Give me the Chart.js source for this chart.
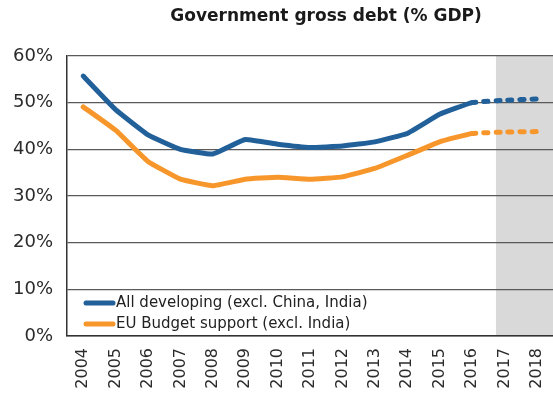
<!DOCTYPE html>
<html>
<head>
<meta charset="utf-8">
<script src="https://cdn.jsdelivr.net/npm/chart.js@4.4.0/dist/chart.umd.min.js"></script>
<style>
  html, body { margin: 0; padding: 0; background: #ffffff; }
  #wrap { width: 553px; height: 394px; position: relative; }
</style>
</head>
<body>
<div id="wrap"><canvas id="chart" width="553" height="394"></canvas></div>
<script>
// Government gross debt, % of GDP
const years = ['2004','2005','2006','2007','2008','2009','2010','2011','2012','2013','2014','2015','2016','2017','2018'];
const allDeveloping = [55.7, 48.5, 43.1, 40.0, 39.0, 42.1, 41.1, 40.4, 40.7, 41.6, 43.4, 47.5, 50.0, 50.5, 50.8];
const euBudgetSupport = [49.1, 44.1, 37.4, 33.6, 32.2, 33.6, 34.0, 33.6, 34.1, 35.9, 38.7, 41.6, 43.4, 43.7, 43.8];
const seriesNames = ['All developing (excl. China, India)', 'EU Budget support (excl. India)'];
const yTicks = [0, 10, 20, 30, 40, 50, 60];
const lastActualIndex = 12;   // 2016: later years are projections
const titleText = 'Government gross debt (% GDP)';

const BLUE = '#22609a';
const ORANGE = '#f7962b';
const GRID = '#5a5a5a';
const FONT = '"DejaVu Sans"';

// dotted style for projected segments
const projDash = ctx => ctx.p0DataIndex >= lastActualIndex ? [4, 8] : undefined;

// grey band behind the projection years
const projectionBand = {
  id: 'projectionBand',
  beforeDraw(chart) {
    const { ctx, chartArea, scales } = chart;
    const x0 = scales.x.getPixelForValue(lastActualIndex + 0.74);
    ctx.save();
    ctx.fillStyle = '#d9d9d9';
    ctx.fillRect(x0, chartArea.top, chart.width - x0, chartArea.bottom - chartArea.top);
    ctx.restore();
  }
};

// title and in-plot legend
const annotations = {
  id: 'annotations',
  afterDraw(chart) {
    const { ctx, chartArea } = chart;
    ctx.save();
    ctx.fillStyle = '#1a1a1a';
    ctx.font = 'bold 17px ' + FONT;
    ctx.textAlign = 'center';
    ctx.textBaseline = 'middle';
    ctx.fillText(titleText, 326, 17);

    ctx.font = '15px ' + FONT;
    ctx.textAlign = 'left';
    chart.data.datasets.forEach((ds, i) => {
      const y = 303 + i * 21;
      ctx.strokeStyle = ds.borderColor;
      ctx.lineWidth = 5;
      ctx.lineCap = 'round';
      ctx.beginPath();
      ctx.moveTo(chartArea.left + 19, y);
      ctx.lineTo(chartArea.left + 46, y);
      ctx.stroke();
      ctx.fillStyle = '#222222';
      ctx.fillText(ds.label, chartArea.left + 49, y);
    });
    ctx.restore();
  }
};

new Chart(document.getElementById('chart'), {
  type: 'line',
  data: {
    labels: years,
    datasets: [
      {
        label: seriesNames[0],
        data: allDeveloping,
        borderColor: BLUE,
        borderWidth: 5,
        borderCapStyle: 'round',
        borderJoinStyle: 'round',
        pointRadius: 0,
        tension: 0.1,
        segment: { borderDash: projDash }
      },
      {
        label: seriesNames[1],
        data: euBudgetSupport,
        borderColor: ORANGE,
        borderWidth: 5,
        borderCapStyle: 'round',
        borderJoinStyle: 'round',
        pointRadius: 0,
        tension: 0.1,
        segment: { borderDash: projDash }
      }
    ]
  },
  options: {
    responsive: false,
    animation: false,
    devicePixelRatio: 1,
    layout: { padding: { top: 56, right: 0, left: 0, bottom: 0 } },
    plugins: {
      legend: { display: false },
      title: { display: false },
      tooltip: { enabled: false }
    },
    scales: {
      x: {
        offset: true,
        grid: { display: false, drawTicks: false },
        border: { display: true, color: '#333333', width: 1.5 },
        ticks: {
          minRotation: 90,
          maxRotation: 90,
          padding: 12,
          color: '#2b2b2b',
          font: { family: FONT, size: 16 }
        },
        afterFit(scale) {
          scale.height = 58;
          scale.paddingLeft = 0;
          scale.paddingRight = 0;
        }
      },
      y: {
        min: 0,
        max: 60,
        afterBuildTicks(scale) { scale.ticks = yTicks.map(v => ({ value: v })); },
        grid: { color: GRID, lineWidth: 1.3, drawTicks: false },
        border: { display: true, color: '#333333', width: 1.5 },
        ticks: {
          padding: 14,
          color: '#2b2b2b',
          font: { family: FONT, size: 18 },
          callback: v => v + '%'
        },
        afterFit(scale) { scale.width = 67; }
      }
    }
  },
  plugins: [projectionBand, annotations]
});
</script>
</body>
</html>
